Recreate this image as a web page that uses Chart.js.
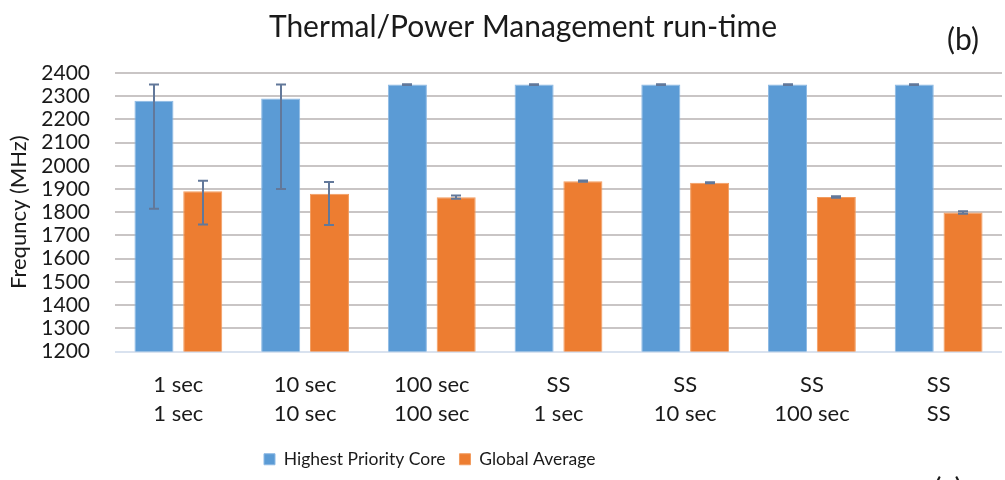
<!DOCTYPE html>
<html>
<head>
<meta charset="utf-8">
<script src="https://cdn.jsdelivr.net/npm/chart.js@4.4.1/dist/chart.umd.min.js"></script>
<style>
  html, body { margin: 0; padding: 0; background: #fff; }
  #wrap { width: 1005px; height: 480px; position: relative; }
</style>
</head>
<body>
<div id="wrap"><canvas id="c"></canvas></div>
<script>
// x categories (two-line labels: top = highest priority core, bottom = others)
const labels = [
  ['1 sec', '1 sec'],
  ['10 sec', '10 sec'],
  ['100 sec', '100 sec'],
  ['SS', '1 sec'],
  ['SS', '10 sec'],
  ['SS', '100 sec'],
  ['SS', 'SS']
];

const coreFreq = [2280, 2290, 2350, 2350, 2350, 2350, 2350];
const coreLo   = [1815, 1900, 2348, 2348, 2348, 2348, 2348];
const coreHi   = [2350, 2350, 2352, 2352, 2352, 2352, 2352];

const avgFreq = [1890, 1880, 1865, 1934, 1927, 1866, 1799];
const avgLo   = [1747, 1745, 1858, 1931, 1925, 1863, 1794];
const avgHi   = [1936, 1930, 1872, 1937, 1929, 1869, 1804];

const yMin = 1200, yMax = 2400, yStep = 100;

const FONT = 'Lato, "Open Sans", sans-serif';
const TXT = '#1a1a1a';

const errBars = [[coreLo, coreHi], [avgLo, avgHi]];

const errorBarPlugin = {
  id: 'errorBars',
  afterDatasetsDraw(chart) {
    const ctx = chart.ctx, y = chart.scales.y;
    ctx.save();
    ctx.strokeStyle = '#62789a';
    ctx.lineWidth = 2;
    errBars.forEach(([lo, hi], di) => {
      chart.getDatasetMeta(di).data.forEach((bar, j) => {
        const x = Math.round(bar.x), y0 = y.getPixelForValue(lo[j]), y1 = y.getPixelForValue(hi[j]);
        ctx.beginPath();
        ctx.moveTo(x, y0); ctx.lineTo(x, y1);
        ctx.moveTo(x - 5, y0); ctx.lineTo(x + 5, y0);
        ctx.moveTo(x - 5, y1); ctx.lineTo(x + 5, y1);
        ctx.stroke();
      });
    });
    ctx.restore();
  }
};

// title and legend are not centred on the canvas in the original, nudge them
const placePlugin = {
  id: 'place',
  afterLayout(chart) {
    const t = chart.titleBlock;
    if (t) { t.left += 22; t.right += 22; }
    const l = chart.legend;
    if (l) { const w = l.right - l.left; l.left = 250; l.right = 250 + w; }
  },
  afterDraw(chart) {
    const ctx = chart.ctx;
    ctx.save();
    ctx.fillStyle = TXT;
    ctx.font = '30px ' + FONT;
    ctx.textAlign = 'center';
    ctx.textBaseline = 'middle';
    ctx.fillText('(b)', 963, 40);
    ctx.fillText('(c)', 948, 490);
    ctx.restore();
  }
};

new Chart(document.getElementById('c'), {
  type: 'bar',
  data: {
    labels,
    datasets: [
      { label: 'Highest Priority Core', data: coreFreq, backgroundColor: '#5b9bd5', borderColor: '#8cb9e4', borderWidth: 1,
        categoryPercentage: 0.77, barPercentage: 0.8 },
      { label: 'Global Average', data: avgFreq, backgroundColor: '#ed7d31', borderColor: '#f29c5f', borderWidth: 1,
        categoryPercentage: 0.77, barPercentage: 0.8 }
    ]
  },
  options: {
    responsive: true,
    maintainAspectRatio: false,
    animation: false,
    layout: { padding: { top: 0, right: 3, bottom: 2, left: 0 } },
    plugins: {
      title: { display: true, text: 'Thermal/Power Management run-time', color: TXT,
        font: { family: FONT, size: 30, weight: 'normal', lineHeight: 1.2 }, padding: { top: 9, bottom: 28 } },
      legend: { position: 'bottom', align: 'start',
        labels: { color: TXT, font: { family: FONT, size: 17.5 }, boxWidth: 11, boxHeight: 11, padding: 14 } },
      tooltip: { enabled: false }
    },
    scales: {
      x: {
        grid: { display: false },
        border: { display: false },
        ticks: { color: TXT, font: { family: FONT, size: 22, lineHeight: 1.32 }, padding: 11, maxRotation: 0 },
        afterFit: s => { s.height = 85; }
      },
      y: {
        min: yMin, max: yMax,
        grid: { color: c => c.tick && c.tick.value === yMin ? '#d9e2ef' : '#c9c5c5', lineWidth: 2, drawTicks: false },
        border: { display: false },
        ticks: { color: TXT, font: { family: FONT, size: 21 }, padding: 25, stepSize: yStep, autoSkip: false,
          callback: v => String(v) },
        title: { display: true, text: 'Frequncy (MHz)', color: TXT, font: { family: FONT, size: 22 }, padding: { top: 6, bottom: 0 } },
        afterFit: s => { s.width = 115; }
      }
    }
  },
  plugins: [errorBarPlugin, placePlugin]
});
</script>
</body>
</html>
